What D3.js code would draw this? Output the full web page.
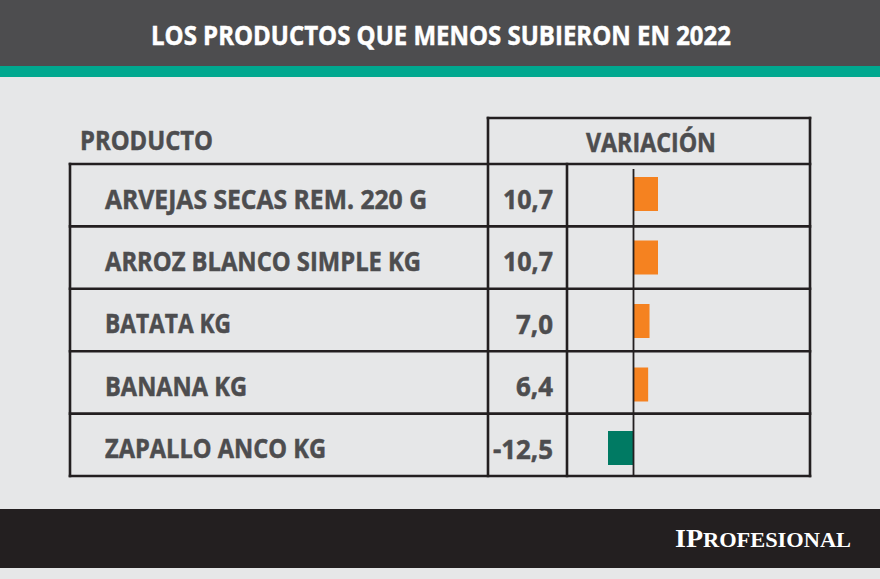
<!DOCTYPE html>
<html><head><meta charset="utf-8">
<script src="https://cdn.jsdelivr.net/npm/d3@7"></script>
<style>html,body{margin:0;padding:0;background:#e6e7e8}svg{display:block}text{font-family:"Open Sans",sans-serif;font-weight:700}</style>
</head><body><svg id="c" width="880" height="579"></svg>
<script>
const titleText = "LOS PRODUCTOS QUE MENOS SUBIERON EN 2022";
const columnLabels = ["PRODUCTO", "VARIACIÓN"];
const products = ["ARVEJAS SECAS REM. 220 G", "ARROZ BLANCO SIMPLE KG", "BATATA KG", "BANANA KG", "ZAPALLO ANCO KG"];
const variation = [10.7, 10.7, 7.0, 6.4, -12.5];
const valueLabels = ["10,7", "10,7", "7,0", "6,4", "-12,5"];
const brand = "IPROFESIONAL";

const svg = d3.select("#c");
const ink = "#231f20", grey = "#4d4d4f";
const fit = (sel, w) => sel.attr("textLength", w).attr("lengthAdjust", "spacingAndGlyphs");
const heavy = sel => sel.attr("stroke", sel.attr("fill")).attr("stroke-width", 0.5);

svg.append("rect").attr("width",880).attr("height",579).attr("fill","#e6e7e8");
svg.append("rect").attr("width",880).attr("height",66).attr("fill",grey);
svg.append("rect").attr("y",66).attr("width",880).attr("height",11).attr("fill","#00a88f");
svg.append("rect").attr("y",509).attr("width",880).attr("height",59).attr("fill",ink);

svg.append("text").attr("x",151).attr("y",45).attr("font-size",27).attr("fill","#fff")
  .text(titleText).call(fit,580).call(heavy);

const y = d3.scaleBand().domain(products).range([164,476]);
const barY = d3.scalePoint().domain(products).range([177,431]);
const x = d3.scaleLinear().domain([-12.5,0,10.7]).range([608,633.5,658]);

svg.append("g").selectAll("rect").data(variation).join("rect")
  .attr("x",d=>Math.min(x(d),x(0)))
  .attr("width",d=>Math.abs(x(d)-x(0)))
  .attr("y",(d,i)=>barY(products[i]))
  .attr("height",34)
  .attr("fill",d=>d<0?"#007a63":"#f58220");

const line=(x1,y1,x2,y2,w)=>svg.append("line").attr("x1",x1).attr("y1",y1).attr("x2",x2).attr("y2",y2)
  .attr("stroke",ink).attr("stroke-width",w).attr("stroke-linecap","square");
line(488,118,810,118,2.6); line(810,118,810,476,2.6); line(488,118,488,476,2.6);
line(70,164,70,476,2.6); line(567,164,567,476,2.6);
products.forEach(p=>line(70,y(p),810,y(p),2.6));
line(70,476,810,476,2.6);
svg.append("line").attr("x1",x(0)).attr("x2",x(0)).attr("y1",169).attr("y2",476).attr("stroke",ink).attr("stroke-width",1.8);

const labelWidths = [322,316,126,142,221];
const valueWidths = [50,50,37,37,60];
svg.append("text").attr("x",80).attr("y",150).attr("font-size",27).attr("fill",grey).text(columnLabels[0]).call(fit,133).call(heavy);
svg.append("text").attr("x",586).attr("y",152).attr("font-size",27).attr("fill",grey).text(columnLabels[1]).call(fit,130).call(heavy);
svg.append("g").selectAll("text").data(products).join("text")
  .attr("x",105).attr("y",d=>y(d)+44.5).attr("font-size",27).attr("fill",grey).attr("stroke",grey).attr("stroke-width",0.5)
  .attr("textLength",(d,i)=>labelWidths[i]).attr("lengthAdjust","spacingAndGlyphs").text(d=>d);
svg.append("g").selectAll("text").data(valueLabels).join("text")
  .attr("x",(d,i)=>553-valueWidths[i]).attr("y",(d,i)=>y(products[i])+45).attr("font-size",27).attr("fill",grey).attr("stroke",grey).attr("stroke-width",0.5)
  .attr("textLength",(d,i)=>valueWidths[i]).attr("lengthAdjust","spacingAndGlyphs").text(d=>d);

const b = svg.append("text").attr("x",675).attr("y",547).attr("fill","#fff")
  .style("font-family","'Liberation Serif',serif").attr("font-size",20).call(fit,176);
b.append("tspan").attr("font-size",25).text(brand.slice(0,2));
b.append("tspan").text(brand.slice(2));
</script></body></html>
